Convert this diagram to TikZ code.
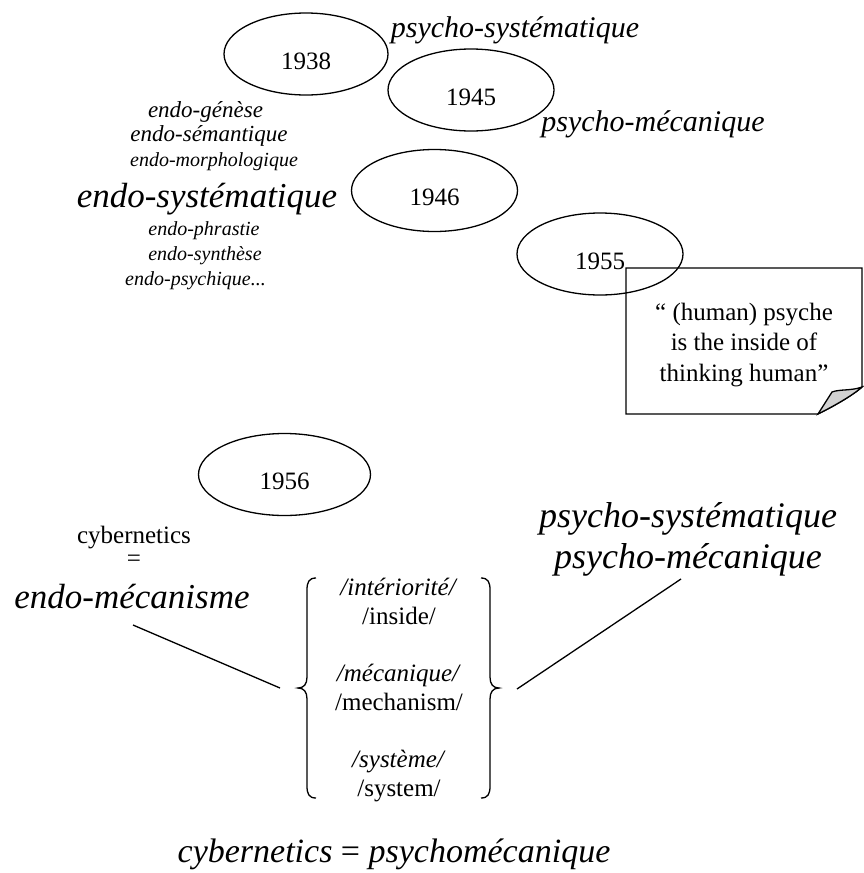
\documentclass[tikz,border=0pt]{standalone}
\usepackage{fontspec}
\setmainfont{Liberation Serif}
\usetikzlibrary{shapes.geometric}
\newcommand{\yrtext}[1]{\raisebox{-15pt}[0pt][0pt]{#1}}
\begin{document}
\begin{tikzpicture}[x=1pt,y=-1pt,
  yr/.style={draw, ellipse, line width=1.3pt, inner sep=0pt, minimum width=166pt, minimum height=82pt, font=\fontsize{25}{29}\selectfont},
  reg/.style={inner sep=0pt, font=\fontsize{25}{28.75}\selectfont, align=center},
  sml/.style={inner sep=0pt, font=\fontsize{20}{23}\selectfont\itshape},
  smlb/.style={inner sep=0pt, font=\fontsize{23}{26}\selectfont\itshape},
  mid/.style={inner sep=0pt, font=\fontsize{30}{34}\selectfont\itshape},
  big/.style={inner sep=0pt, font=\fontsize{35}{40}\selectfont\itshape},
  bigr/.style={inner sep=0pt, font=\fontsize{36}{41}\selectfont\itshape, align=center},
  ln/.style={line width=1.3pt},
  brc/.style={line width=1.3pt}]
\useasboundingbox (0,0) rectangle (863,873);

% note (drawn first, ellipse arc stays visible)
\draw[line width=1.3pt] (626,268) -- (862,268) -- (862,387) .. controls (852,396) and (832,407) .. (818,414) -- (626,414) -- cycle;
\draw[line width=1.3pt, fill=gray!35] (818,414) -- (832,392) .. controls (840,389) and (851,391) .. (862,387) .. controls (852,396) and (832,407) .. (818,414) -- cycle;
\node[reg, font=\fontsize{25}{30.5}\selectfont] (quote) at (744,345) {“ (human) psyche\\is the inside of\\thinking human”};

% ellipses
\node[yr, minimum width=164pt] (e38) at (306,54) {\yrtext{1938}};
\node[yr] (e45) at (471,90) {\yrtext{1945}};
\node[yr] (e46) at (434.5,190.5) {\yrtext{1946}};
\node[yr] (e55) at (600,254) {\yrtext{1955}};
\node[yr, minimum width=172pt] (e56) at (284.5,474.5) {\yrtext{1956}};

% psycho labels top
\node[mid] (ps1) at (515,30) {psycho-systématique};
\node[mid] (pm1) at (653,124) {psycho-mécanique};

% left column
\node[smlb] (g1) at (205.5,112) {endo-génèse};
\node[smlb] (g2) at (209,136) {endo-sémantique};
\node[sml] (g3) at (214,162) {endo-morphologique};
\node[big] (g4) at (207,199) {endo-systématique};
\node[sml] (g5) at (204,231) {endo-phrastie};
\node[sml] (g6) at (205,256) {endo-synthèse};
\node[sml] (g7) at (195.5,281) {endo-psychique...};

% lower left
\node[reg] (cyb) at (134,538) {cybernetics};
\node[reg] (eq) at (134,561) {=};
\node[big] (endm) at (132,597) {endo-mécanisme};

% lower right
\node[bigr] (psr) at (688,539) {psycho-systématique\\psycho-mécanique};

% brace text
\node[reg] (brt) at (399,690) {\textit{/intériorité/}\\/inside/\\[28.75pt]\textit{/mécanique/}\\/mechanism/\\[28.75pt]\textit{/système/}\\/system/};

% braces
\draw[brc] (316,578) .. controls (309,578) and (307,582) .. (307,590) -- (307,677) .. controls (307,684) and (304,688) .. (298,688) .. controls (304,688) and (307,692) .. (307,699) -- (307,786) .. controls (307,794) and (309,798) .. (316,798);
\draw[brc] (481,578) .. controls (488,578) and (490,582) .. (490,590) -- (490,677) .. controls (490,684) and (493,688) .. (499,688) .. controls (493,688) and (490,692) .. (490,699) -- (490,786) .. controls (490,794) and (488,798) .. (481,798);

% connector lines
\coordinate (la) at (133,625);
\coordinate (lb) at (280,688);
\coordinate (ra) at (517,689);
\coordinate (rb) at (681,579);
\draw[ln] (la) -- (lb);
\draw[ln] (ra) -- (rb);

% bottom
\node[inner sep=0pt, font=\fontsize{34}{39}\selectfont] (bot) at (394,854) {\textit{cybernetics} = \textit{psychomécanique}};
\end{tikzpicture}
\end{document}
